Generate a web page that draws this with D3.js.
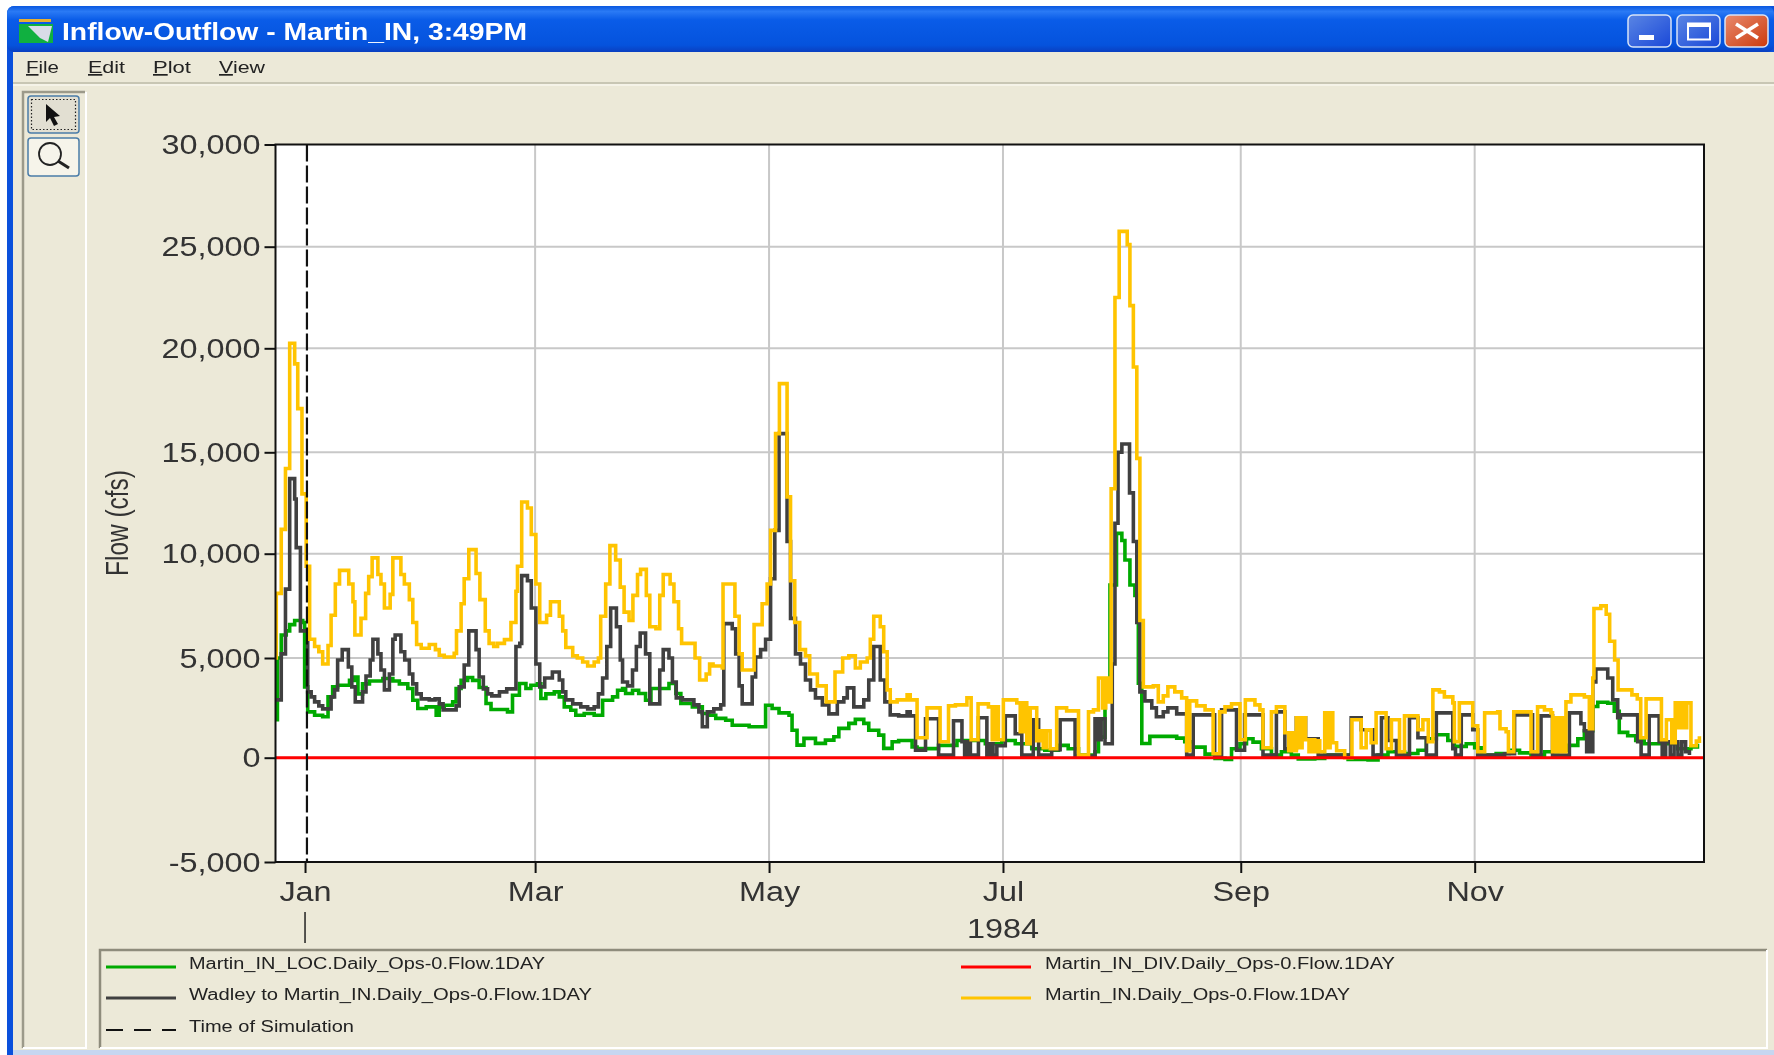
<!DOCTYPE html>
<html>
<head>
<meta charset="utf-8">
<title>Inflow-Outflow - Martin_IN</title>
<script src="https://cdn.jsdelivr.net/npm/d3@7"></script>
<style>
  html, body { margin: 0; padding: 0; background: #fff; overflow: hidden; }
  svg { display: block; filter: blur(0.6px); }
  text { font-family: 'Liberation Sans', Arial, sans-serif; }
</style>
</head>
<body>
<div id="chart"></div>
<script>
// flows are [days since 1 Jan 1984, cfs], each pair is where the daily step changes
const martinInLoc = [
  [-7.8, 1900], [-7.2, 5000], [-6.2, 6100], [-4.9, 6300], [-4, 6600], [-2.7, 6800], [-0.6, 6700], [-0.1, 3550],
  [0.7, 2300], [2.5, 2130], [4.6, 2050], [6, 3050], [7.2, 3550], [8.5, 3630], [11.6, 3880], [12.9, 4050],
  [13.8, 3200], [15, 3700], [16.8, 3850], [20.3, 3970], [22.9, 3850], [24.6, 3700], [26.8, 3470], [28.1, 2880],
  [29.4, 2470], [31.6, 2550], [34.2, 2130], [35, 2550], [36.3, 2630], [38.5, 2800], [39.4, 3470], [40.7, 3880],
  [42.4, 4020], [43.7, 3880], [45.4, 3520], [47.2, 2720], [48.5, 2420], [52.8, 2300], [54.1, 3130], [55.9, 3720],
  [57.6, 3470], [58.9, 3630], [60.6, 3700], [61.5, 2970], [62.8, 3200], [65, 3300], [66.3, 3050], [67.6, 2550],
  [69.3, 2380], [70.6, 2130], [72.8, 2220], [75.4, 2130], [77.6, 2880], [80.2, 3050], [81.5, 3380], [82.8, 3470],
  [83.6, 3220], [85.4, 3380], [87, 3220], [88.8, 2880], [90.2, 3470], [94.9, 3720], [96.7, 3220], [98, 2720],
  [101, 2550], [103.6, 2220], [105.3, 2130], [107.1, 1970], [109.7, 1880], [111.4, 1630], [115.8, 1550], [120.1, 2630],
  [121.8, 2470], [123.6, 2250], [126.2, 2130], [127, 1380], [128.3, 630], [130.1, 970], [133.1, 720], [135.7, 880],
  [137.9, 1050], [139.2, 1470], [141.8, 1720], [143.5, 1920], [145.7, 1720], [147, 1380], [149.6, 1130], [150.9, 470],
  [153.1, 800], [154.8, 860], [158.3, 540], [159.6, 455], [165.2, 620], [170, 860], [177.4, 700], [181.7, 860],
  [185.2, 700], [189.5, 450], [192.9, 370], [196.5, 620], [199, 450], [201.7, 130], [206, 300], [206.9, 1030],
  [208.6, 3020], [209.9, 8500], [211.6, 11000], [213, 10650], [213.8, 9700], [215.1, 8500], [216.4, 8000], [217.3, 3730],
  [218.2, 710], [220.3, 1070], [224.2, 1070], [227.3, 980], [229.4, 800], [231.6, 530], [234.7, 180], [237.3, -30],
  [239.9, -80], [241.6, 450], [243.8, 700], [245.5, 950], [247.2, 780], [249.4, 450], [252, 130], [254.6, 300],
  [257.2, 130], [259, -60], [263.3, -30], [265.9, 130], [272, -80], [277.2, -110], [279.8, 130], [282.4, 300],
  [286.7, 210], [290.2, 370], [292.4, 950], [295, 1150], [298, 860], [299.7, 570], [302.8, 700], [305, 500],
  [306.7, 130], [310.6, 210], [314, 370], [316.7, 240], [319.7, 130], [323.2, 300], [326.7, 370], [329.3, 620],
  [331.9, 950], [333.6, 1350], [335.8, 2570], [337.1, 2780], [339.7, 2730], [341.4, 2330], [342.7, 1270], [344.9, 1100],
  [347, 860], [349.2, 700], [355.3, 700], [357.9, 450], [361.4, 540], [363.1, 700],
];

const martinInDiv = [[-7.8, 0], [364.9, 0]];

const wadleyToMartin = [
  [-7.8, 2900], [-6.2, 5200], [-5.1, 8300], [-4, 13700], [-2.7, 12700], [-2.3, 10300], [-1.2, 6300], [0.7, 3300],
  [1.6, 3050], [2.5, 2800], [3.6, 2600], [4.6, 2450], [6.8, 3050], [7.7, 3400], [8.5, 4900], [9.7, 5400],
  [11.3, 4550], [12.2, 3550], [13.1, 2800], [15, 3300], [15.9, 4100], [17, 4900], [17.7, 5900], [19, 5200],
  [19.8, 4400], [20.7, 3400], [22, 4200], [22.9, 5900], [23.5, 6100], [25, 5300], [26, 4900], [27.2, 4200],
  [28.1, 3700], [29.1, 3200], [30.3, 2950], [32.4, 2900], [33.9, 2950], [35, 2700], [36, 2400], [39.4, 2600],
  [40.2, 3550], [41.5, 4650], [42.7, 6300], [44.6, 5400], [45.4, 4050], [46.5, 3450], [47.6, 3200], [48.7, 3100],
  [50.7, 3300], [52.6, 3450], [55, 5550], [56, 5700], [56.5, 8950], [58, 8700], [59, 7400], [60.2, 4700],
  [61.2, 3550], [62.5, 4000], [64.5, 4300], [66.3, 3900], [67.2, 3300], [68, 2900], [69.8, 2700], [71.9, 2550],
  [73.7, 2450], [75.4, 2550], [76.5, 3200], [77.6, 4000], [78.7, 5550], [79.7, 7400], [81.2, 6500], [82.2, 4900],
  [82.8, 3800], [84.1, 3600], [85.4, 4400], [86.4, 5550], [87.4, 6200], [88.8, 5200], [89.9, 2700], [92.5, 4400],
  [93.4, 5400], [94.9, 5000], [95.8, 3800], [96.8, 3000], [98.4, 2900], [101.4, 2650], [102.7, 2300], [103.6, 1550],
  [104.9, 2300], [106.6, 2450], [108.4, 2650], [109.2, 6650], [111.4, 6400], [112.3, 5200], [113.2, 3600], [114, 2700],
  [116.6, 4050], [117.5, 5050], [118.8, 5400], [120.1, 5900], [121.4, 8800], [122.5, 11150], [123.6, 15900], [125.7, 10600],
  [126.6, 6900], [127.9, 5200], [129.2, 4700], [130.5, 3900], [131.8, 3400], [133.1, 3000], [134.9, 2650], [136.6, 2200],
  [138.8, 2800], [140.5, 3000], [141.4, 3500], [143.1, 2550], [145.7, 2900], [147, 3900], [148.3, 5550], [150, 3900],
  [151.2, 2800], [152.6, 2150], [154.8, 2100], [157, 2300], [157.8, 2100], [159.2, 370], [161.8, 1950], [165.2, 130],
  [169.1, 1850], [171.3, 800], [172, 130], [172.8, 800], [173.5, 130], [175.6, 2000], [177.8, 130], [178.6, 700],
  [179.4, 130], [180.4, 600], [182.6, 2100], [185.2, 1200], [186.9, 130], [189.9, 1900], [191.3, 130], [194.7, 400],
  [196.9, 1900], [200.8, 80], [206, 1950], [206.8, 900], [207.6, 1950], [208.6, 700], [210.5, 4700], [211.2, 11500],
  [212, 15000], [213, 15400], [215, 13000], [216, 10600], [216.9, 6700], [217.7, 3300], [219, 2850], [220.8, 2500],
  [222, 2050], [223.8, 2300], [225, 2500], [227.3, 2200], [229.9, 130], [231.6, 2150], [237.2, 130], [239, 2400],
  [242.9, 370], [245, 2150], [249.8, 130], [253.3, 2300], [255.5, 450], [258.5, 2000], [260.9, 950], [264.2, 130],
  [272.8, 2000], [275.4, 1400], [278.5, 130], [280.7, 2000], [282.4, 860], [284.6, 130], [288, 2000], [290.2, 1000],
  [292.4, 130], [295, 2250], [299.3, 450], [300, 130], [301.5, 2150], [304.5, 1400], [305.8, 130], [312.8, 200],
  [315.4, 2150], [320.1, 130], [322.3, 2100], [325.3, 130], [329.7, 2250], [332.7, 1700], [333.6, 1350], [334.2, 300],
  [334.9, 1350], [335.4, 300], [335.8, 3800], [336.6, 4450], [339.7, 4000], [341, 2900], [342.3, 2000], [343, 2150],
  [347.5, 800], [348.4, 130], [350.5, 2100], [353.1, 800], [353.9, 130], [354.8, 800], [356, 130], [357, 800],
  [358, 130], [359, 800], [360, 300], [361, 130],
];

const martinIn = [
  [-7.8, 5000], [-7.5, 8100], [-6.2, 11200], [-5.1, 14200], [-4, 20250], [-2.7, 19250], [-1.9, 17100], [-0.8, 12950],
  [0.3, 9400], [1.2, 5900], [2.5, 5550], [3.6, 5300], [4.6, 4700], [6, 5600], [6.8, 7050], [7.9, 8550],
  [9, 9200], [11.4, 8550], [12.5, 7700], [13, 6100], [14.6, 6900], [15.8, 8100], [16.6, 8900], [17.5, 9800],
  [19, 9000], [19.8, 8550], [20.7, 7400], [22.2, 8050], [22.9, 9800], [25, 9000], [25.9, 8550], [27.2, 7800],
  [28.1, 6700], [29.1, 5650], [30.3, 5470], [32.4, 5650], [34, 5400], [35, 5130], [36.3, 5050], [38.9, 5220],
  [39.5, 6300], [40.7, 7600], [41.5, 8800], [42.7, 10200], [44.6, 9050], [45.6, 7800], [47, 6300], [48, 5700],
  [49.2, 5550], [50.2, 5700], [52, 5880], [53.7, 6700], [55, 8200], [55.4, 9400], [56.5, 12550], [58, 12250],
  [59, 10950], [60.2, 8550], [61.2, 6700], [63, 7050], [64, 7700], [66.3, 7000], [67.2, 6300], [68, 5500],
  [69.8, 5100], [71, 5000], [72.4, 4800], [73.7, 4600], [75.4, 4800], [76.5, 5000], [77.1, 7000], [78.4, 8550],
  [79.5, 10400], [81, 9700], [82.2, 8400], [83.2, 7200], [84.5, 6800], [85.5, 8000], [86.7, 9000], [87.5, 9250],
  [89, 8000], [89.9, 6500], [91.5, 6400], [92.5, 8000], [93.4, 9000], [95.2, 8550], [96.2, 7700], [97.4, 6400],
  [98.2, 5700], [101.7, 5000], [102.9, 3900], [104.6, 4200], [105.5, 4700], [106.4, 4600], [108.8, 4500], [109, 8550],
  [112.1, 7000], [113.2, 5200], [114, 4400], [117.1, 6600], [119.2, 7600], [120.5, 8550], [121.4, 11150], [122.7, 15900],
  [123.7, 18300], [125.7, 12800], [126.6, 8700], [127.7, 6700], [129, 5400], [130.5, 5100], [131.6, 4200], [133.6, 3600],
  [135.9, 2800], [138.2, 4300], [140.2, 5000], [141.8, 5100], [143.5, 4500], [144.8, 4800], [146.6, 5000], [147.4, 5900],
  [148.3, 7000], [150, 6500], [150.9, 5300], [151.8, 3400], [152.6, 2800], [154.4, 2900], [157, 3150], [157.8, 2900],
  [159.6, 1000], [162.2, 2500], [165.6, 800], [167.8, 2600], [169.6, 2650], [172.6, 3000], [173.7, 900], [175.5, 2700],
  [178.2, 2550], [179.2, 900], [180, 2550], [180.8, 900], [182.1, 2900], [185.6, 2750], [186.5, 1300], [187.3, 2750],
  [188.2, 700], [189.1, 2500], [190.8, 850], [191.7, 1350], [192.5, 500], [193.3, 1350], [194.3, 450], [196, 2500],
  [198.6, 2350], [201.7, 130], [204.3, 2300], [205.6, 2400], [206.9, 4000], [208, 2500], [208.8, 4000], [209.5, 2800],
  [210.2, 13200], [211.2, 22500], [212.3, 25750], [214.4, 25100], [215.1, 22100], [216, 19100], [216.9, 14700], [217.7, 6800],
  [218.6, 3550], [221.2, 3600], [222.5, 2800], [223.8, 3100], [225, 3550], [226.8, 3300], [228.6, 3000], [229.9, 350],
  [230.7, 2850], [232.5, 2600], [234.7, 2400], [236.8, 200], [238.5, 2300], [239.9, 2550], [241.6, 2700], [243.8, 900],
  [245.2, 2900], [247.7, 2650], [249, 2400], [249.8, 500], [252, 2300], [253.3, 2550], [255.5, 1250], [256.5, 350],
  [257, 1250], [257.6, 350], [258.5, 2000], [259.3, 500], [260, 2000], [260.9, 900], [261.8, 300], [262.5, 900],
  [263.3, 300], [264, 850], [264.6, 300], [265.9, 2250], [266.8, 500], [267.3, 2250], [268, 750], [269, 350],
  [271.1, 0], [273, 1900], [275.4, 500], [276.7, 1400], [278, 750], [279.3, 2250], [281.9, 450], [283.3, 1900],
  [285.4, 300], [286.7, 2100], [290.2, 1400], [291.5, 1900], [292.9, 800], [294.1, 3400], [295.8, 3300], [297.1, 3050],
  [299.3, 2750], [299.7, 800], [301, 2750], [304.5, 1600], [305.8, 300], [307.6, 2250], [311, 2300], [311.6, 1450],
  [313.2, 1300], [313.8, 300], [315.2, 2300], [319.7, 300], [321.4, 2550], [323.2, 2400], [324.9, 2250], [325.3, 300],
  [326, 2000], [326.7, 300], [327.4, 2000], [328, 300], [328.8, 2800], [330.1, 3150], [333.6, 3050], [334.9, 1450],
  [335.8, 4000], [336.1, 7370], [337.9, 7500], [339.3, 7100], [340.2, 5800], [341.5, 4900], [342.4, 3400], [346, 3150],
  [347.4, 2950], [348.3, 1000], [349.7, 2950], [353.7, 900], [355, 1900], [356.4, 750], [357.3, 2750], [358, 1500],
  [358.7, 2750], [359.5, 1500], [360.3, 2750], [361.4, 600], [362.8, 830], [363.6, 1080],
];

const seriesNames = [
  'Martin_IN_LOC.Daily_Ops-0.Flow.1DAY',
  'Martin_IN_DIV.Daily_Ops-0.Flow.1DAY',
  'Wadley to Martin_IN.Daily_Ops-0.Flow.1DAY',
  'Martin_IN.Daily_Ops-0.Flow.1DAY',
  'Time of Simulation',
];
const seriesColors = ['#00aa00', '#ff0000', '#404040', '#ffc400', '#111111'];

const flowTicks = [-5000, 0, 5000, 10000, 15000, 20000, 25000, 30000];
const monthFormat = d3.utcFormat('%b');
const simulationDay = 0.5;

const width = 1774;
const height = 1055;
const plot = {
  top: 144.5, right: 1704, bottom: 862, left: 275.5,
};
// the window grab was resampled unevenly, so each gridline gets its own row
const flowRows = [862, 757.7, 658, 553.7, 452.3, 348.3, 246.7, 144.5];

const dayToDate = (d) => new Date(Date.UTC(1984, 0, 1) + d * 864e5);

const x = d3.scaleUtc()
  .domain([dayToDate(-7.7), dayToDate(364.8)])
  .range([plot.left, plot.right]);
const y = d3.scaleLinear()
  .domain(flowTicks)
  .range(flowRows);

const svg = d3.select('#chart').append('svg')
  .attr('width', width)
  .attr('height', height);

// stretch text sideways, the grab was widened and the glyphs look wide
const stretch = (sel, factor) => sel.each(function () {
  d3.select(this)
    .attr('textLength', this.getComputedTextLength() * factor)
    .attr('lengthAdjust', 'spacingAndGlyphs');
});

/* ---- window chrome ---- */
const defs = svg.append('defs');
const titleGrad = defs.append('linearGradient')
  .attr('id', 'titleGrad')
  .attr('x1', 0).attr('x2', 0)
  .attr('y1', 0).attr('y2', 1);
[[0, '#0a58e0'], [0.12, '#2a7af5'], [0.3, '#0a5ce8'], [0.85, '#0553dd'], [1, '#0a3fc0']].forEach(([o, c]) => {
  titleGrad.append('stop').attr('offset', o).attr('stop-color', c);
});
const closeGrad = defs.append('linearGradient')
  .attr('id', 'closeGrad')
  .attr('x1', 0).attr('x2', 1)
  .attr('y1', 0).attr('y2', 1);
closeGrad.append('stop').attr('offset', 0).attr('stop-color', '#e88a6e');
closeGrad.append('stop').attr('offset', 1).attr('stop-color', '#cc3a0c');
const btnGrad = defs.append('linearGradient')
  .attr('id', 'btnGrad')
  .attr('x1', 0).attr('x2', 1)
  .attr('y1', 0).attr('y2', 1);
btnGrad.append('stop').attr('offset', 0).attr('stop-color', '#5a86e4');
btnGrad.append('stop').attr('offset', 1).attr('stop-color', '#1a48d8');
defs.append('clipPath').attr('id', 'plotClip')
  .append('rect')
  .attr('x', plot.left)
  .attr('y', plot.top)
  .attr('width', plot.right - plot.left)
  .attr('height', plot.bottom - plot.top);

svg.append('rect')
  .attr('width', width).attr('height', height)
  .attr('fill', '#fff');
svg.append('path')
  .attr('d', `M7,${height} V14 Q7,6 15,6 H${width} V${height} Z`)
  .attr('fill', '#0a50dc');
svg.append('rect')
  .attr('x', 7).attr('y', 6)
  .attr('width', width - 7).attr('height', 46)
  .attr('rx', 7)
  .attr('fill', 'url(#titleGrad)');
svg.append('rect')
  .attr('x', 13).attr('y', 52)
  .attr('width', width - 13).attr('height', height - 52 - 5)
  .attr('fill', '#ece9d8');
svg.append('rect')
  .attr('x', 0).attr('y', 1050)
  .attr('width', width).attr('height', 5)
  .attr('fill', '#c6d6f0');
svg.append('rect')
  .attr('x', 0).attr('y', 0)
  .attr('width', 7).attr('height', height)
  .attr('fill', '#fff');
svg.append('rect')
  .attr('x', 7).attr('y', 1048)
  .attr('width', 6).attr('height', 7)
  .attr('fill', '#0a50dc');

// icon
svg.append('rect')
  .attr('x', 19).attr('y', 24).attr('width', 34).attr('height', 19)
  .attr('fill', '#10b040');
svg.append('path')
  .attr('d', 'M28,26 L52,26 L48,42 L40,38 Z')
  .attr('fill', '#d8dce8');
svg.append('rect')
  .attr('x', 19).attr('y', 19).attr('width', 32).attr('height', 3)
  .attr('fill', '#e8b030');

svg.append('text')
  .attr('x', 62).attr('y', 40)
  .attr('font-size', 23)
  .attr('font-weight', 'bold')
  .attr('fill', '#fff')
  .attr('textLength', 465)
  .attr('lengthAdjust', 'spacingAndGlyphs')
  .text('Inflow-Outflow - Martin_IN, 3:49PM');

// window buttons
const winButtons = [
  { x: 1628, fill: 'url(#btnGrad)' },
  { x: 1677, fill: 'url(#btnGrad)' },
  { x: 1725, fill: 'url(#closeGrad)' },
];
svg.append('g').selectAll('rect')
  .data(winButtons)
  .enter()
  .append('rect')
  .attr('x', (d) => d.x)
  .attr('y', 15)
  .attr('width', 43)
  .attr('height', 32)
  .attr('rx', 5)
  .attr('fill', (d) => d.fill)
  .attr('stroke', '#d8e4f8')
  .attr('stroke-width', 1.5);
svg.append('rect')
  .attr('x', 1639).attr('y', 35).attr('width', 15).attr('height', 5)
  .attr('fill', '#fff');
svg.append('rect')
  .attr('x', 1688).attr('y', 23.5).attr('width', 22).attr('height', 16)
  .attr('fill', 'none')
  .attr('stroke', '#fff')
  .attr('stroke-width', 2);
svg.append('rect')
  .attr('x', 1688).attr('y', 23).attr('width', 22).attr('height', 4)
  .attr('fill', '#fff');
svg.append('path')
  .attr('d', 'M1736,24 L1758,38 M1758,24 L1736,38')
  .attr('stroke', '#fff')
  .attr('stroke-width', 3.5);

// menu bar
const menus = [
  { label: 'File', x: 26, w: 33 },
  { label: 'Edit', x: 88, w: 37 },
  { label: 'Plot', x: 153, w: 38 },
  { label: 'View', x: 219, w: 46 },
];
const menuText = svg.append('g').selectAll('text')
  .data(menus)
  .enter()
  .append('text')
  .attr('x', (d) => d.x)
  .attr('y', 73)
  .attr('font-size', 17)
  .attr('fill', '#222')
  .attr('textLength', (d) => d.w)
  .attr('lengthAdjust', 'spacingAndGlyphs');
menuText.append('tspan')
  .attr('text-decoration', 'underline')
  .text((d) => d.label[0]);
menuText.append('tspan')
  .text((d) => d.label.slice(1));
svg.append('line')
  .attr('x1', 13).attr('x2', width)
  .attr('y1', 83).attr('y2', 83)
  .attr('stroke', '#bdbaa8')
  .attr('stroke-width', 1.5);
svg.append('line')
  .attr('x1', 13).attr('x2', width)
  .attr('y1', 85).attr('y2', 85)
  .attr('stroke', '#f8f6ee')
  .attr('stroke-width', 1.5);

// tool panel on the left
svg.append('path')
  .attr('d', `M23,1048 V92 H85`)
  .attr('fill', 'none')
  .attr('stroke', '#9c9a8a')
  .attr('stroke-width', 2.5);
svg.append('path')
  .attr('d', `M86,92 V1048 H23`)
  .attr('fill', 'none')
  .attr('stroke', '#fff')
  .attr('stroke-width', 2);
svg.append('rect')
  .attr('x', 28).attr('y', 96).attr('width', 51).attr('height', 37).attr('rx', 3)
  .attr('fill', '#e2dfd2')
  .attr('stroke', '#4a7ca8')
  .attr('stroke-width', 1.5);
svg.append('rect')
  .attr('x', 31.5).attr('y', 99.5).attr('width', 44).attr('height', 30)
  .attr('fill', 'none')
  .attr('stroke', '#222')
  .attr('stroke-width', 1.2)
  .attr('stroke-dasharray', '1.5 2');
svg.append('path')
  .attr('d', 'M46,104 V122 L50,118 L54,126 L58,124 L54,117 L60,116 Z')
  .attr('fill', '#111');
svg.append('rect')
  .attr('x', 28).attr('y', 138).attr('width', 51).attr('height', 38).attr('rx', 3)
  .attr('fill', '#f6f4ea')
  .attr('stroke', '#4a7ca8')
  .attr('stroke-width', 1.5);
svg.append('circle')
  .attr('cx', 50).attr('cy', 154).attr('r', 11)
  .attr('fill', 'none')
  .attr('stroke', '#222')
  .attr('stroke-width', 1.8);
svg.append('line')
  .attr('x1', 58).attr('y1', 161).attr('x2', 69).attr('y2', 168)
  .attr('stroke', '#222')
  .attr('stroke-width', 3);

/* ---- plot ---- */
svg.append('rect')
  .attr('x', plot.left)
  .attr('y', plot.top)
  .attr('width', plot.right - plot.left)
  .attr('height', plot.bottom - plot.top)
  .attr('fill', '#fff');

const monthTicks = d3.utcMonth.range(dayToDate(0), dayToDate(365), 2);

const gridY = svg.append('g')
  .selectAll('line')
  .data(flowTicks.slice(1, -1))
  .enter()
  .append('line')
  .attr('x1', plot.left)
  .attr('x2', plot.right)
  .attr('y1', (d) => y(d))
  .attr('y2', (d) => y(d))
  .attr('stroke', '#c8c8c8')
  .attr('stroke-width', 2);

const gridX = svg.append('g')
  .selectAll('line')
  .data(monthTicks.slice(1))
  .enter()
  .append('line')
  .attr('x1', (d) => x(d))
  .attr('x2', (d) => x(d))
  .attr('y1', plot.top)
  .attr('y2', plot.bottom)
  .attr('stroke', '#c8c8c8')
  .attr('stroke-width', 2);

const flowLine = d3.line()
  .x((d) => x(dayToDate(d[0])))
  .y((d) => y(d[1]))
  .curve(d3.curveStepAfter);

// draw in this order, yellow sits over gray sits over green, red on top
const drawOrder = [
  { data: martinInLoc, color: seriesColors[0], w: 3.6 },
  { data: wadleyToMartin, color: seriesColors[2], w: 3.6 },
  { data: martinIn, color: seriesColors[3], w: 3.6 },
  { data: martinInDiv, color: seriesColors[1], w: 3 },
];

svg.append('g')
  .attr('clip-path', 'url(#plotClip)')
  .selectAll('path')
  .data(drawOrder)
  .enter()
  .append('path')
  .attr('d', (d) => flowLine(d.data))
  .attr('fill', 'none')
  .attr('stroke', (d) => d.color)
  .attr('stroke-width', (d) => d.w)
  .attr('stroke-linejoin', 'miter');

// time of simulation marker
svg.append('line')
  .attr('x1', x(dayToDate(simulationDay)))
  .attr('x2', x(dayToDate(simulationDay)))
  .attr('y1', plot.top)
  .attr('y2', plot.bottom)
  .attr('stroke', seriesColors[4])
  .attr('stroke-width', 2.2)
  .attr('stroke-dasharray', '17 4');

/* ---- axes ---- */
const yAxis = d3.axisLeft(y)
  .tickValues(flowTicks)
  .tickSize(11)
  .tickPadding(4)
  .tickFormat((d) => d3.format(',')(d).replace('\u2212', '-'));
const yAxisG = svg.append('g')
  .attr('transform', `translate(${plot.left},0)`)
  .call(yAxis);

const xAxis = d3.axisBottom(x)
  .tickValues(monthTicks)
  .tickSize(11)
  .tickPadding(9)
  .tickFormat(monthFormat);
const xAxisG = svg.append('g')
  .attr('transform', `translate(0,${plot.bottom})`)
  .call(xAxis);

[yAxisG, xAxisG].forEach((g) => {
  g.select('.domain').remove();
  g.selectAll('.tick line')
    .attr('stroke', '#111')
    .attr('stroke-width', 2);
  g.selectAll('.tick text')
    .attr('font-size', 27)
    .attr('fill', '#333')
    .call(stretch, 1.2);
});
yAxisG.selectAll('.tick text').attr('dy', '0.34em');

svg.append('rect')
  .attr('x', plot.left)
  .attr('y', plot.top)
  .attr('width', plot.right - plot.left)
  .attr('height', plot.bottom - plot.top)
  .attr('fill', 'none')
  .attr('stroke', '#111')
  .attr('stroke-width', 2);

svg.append('text')
  .attr('transform', 'translate(128,523) rotate(-90)')
  .attr('text-anchor', 'middle')
  .attr('font-size', 31)
  .attr('fill', '#333')
  .attr('textLength', 106)
  .attr('lengthAdjust', 'spacingAndGlyphs')
  .text('Flow (cfs)');

svg.append('text')
  .attr('x', x(d3.utcMonth.offset(dayToDate(0), 6)))
  .attr('y', 938)
  .attr('text-anchor', 'middle')
  .attr('font-size', 27)
  .attr('fill', '#333')
  .text('1984')
  .call(stretch, 1.2);

// year bracket under the first month
svg.append('line')
  .attr('x1', x(dayToDate(0)))
  .attr('x2', x(dayToDate(0)))
  .attr('y1', 912)
  .attr('y2', 943)
  .attr('stroke', '#222')
  .attr('stroke-width', 1.5);

/* ---- legend ---- */
svg.append('path')
  .attr('d', 'M100,1048 V950 H1767')
  .attr('fill', 'none')
  .attr('stroke', '#8e8c7c')
  .attr('stroke-width', 2.5);
svg.append('path')
  .attr('d', 'M1767,950 V1048 H100')
  .attr('fill', 'none')
  .attr('stroke', '#fff')
  .attr('stroke-width', 2);

const legendSlots = [
  { sx: 106, tx: 189, row: 0, w: 356 },
  { sx: 961, tx: 1045, row: 0, w: 350 },
  { sx: 106, tx: 189, row: 1, w: 403 },
  { sx: 961, tx: 1045, row: 1, w: 305 },
  { sx: 106, tx: 189, row: 2, w: 165 },
];
const legendRows = [967, 998, 1030];

const legend = svg.append('g').selectAll('g')
  .data(seriesNames)
  .enter()
  .append('g');
legend.append('line')
  .attr('x1', (d, i) => legendSlots[i].sx)
  .attr('x2', (d, i) => legendSlots[i].sx + 70)
  .attr('y1', (d, i) => legendRows[legendSlots[i].row])
  .attr('y2', (d, i) => legendRows[legendSlots[i].row])
  .attr('stroke', (d, i) => seriesColors[i])
  .attr('stroke-width', (d, i) => (i === 4 ? 1.8 : 3))
  .attr('stroke-dasharray', (d, i) => (i === 4 ? '17 11' : null));
legend.append('text')
  .attr('x', (d, i) => legendSlots[i].tx)
  .attr('y', (d, i) => legendRows[legendSlots[i].row] + 2)
  .attr('font-size', 16)
  .attr('fill', '#222')
  .attr('textLength', (d, i) => legendSlots[i].w)
  .attr('lengthAdjust', 'spacingAndGlyphs')
  .text((d) => d);
</script>
</body>
</html>
